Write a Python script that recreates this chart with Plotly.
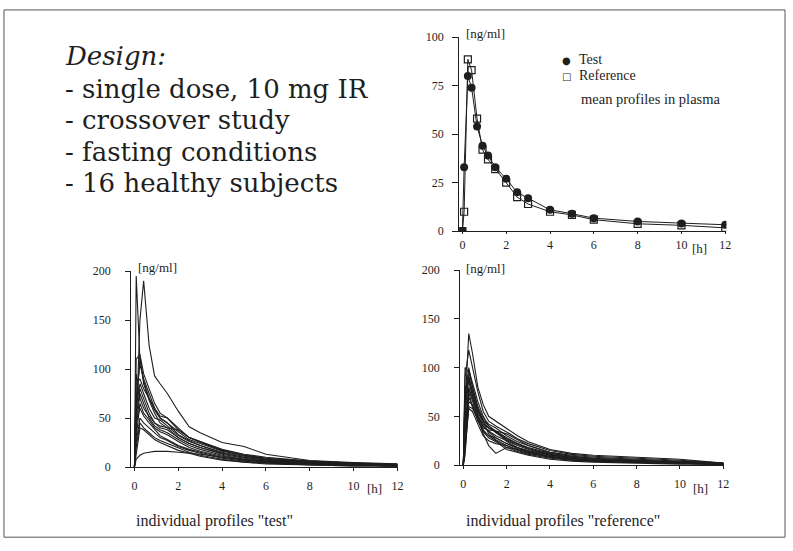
import plotly.graph_objects as go

# ---------------- data ----------------
hours = [0, 0.08, 0.25, 0.42, 0.67, 0.92, 1.17, 1.5, 2, 2.5, 3, 4, 5, 6, 8, 10, 12]

mean_test = [0, 33, 80, 74, 54, 44, 39, 33, 27, 20, 17, 11, 9, 6.7, 5, 4, 3.3]
mean_reference = [0, 10, 88.6, 83, 58, 42, 37, 32, 25, 17.5, 14, 10, 8.4, 5.9, 3.8, 3, 1.7]

test_subjects = [
    [0, 40, 150, 190, 124, 93, 85, 75, 57, 41, 35, 25, 21, 13, 6.6, 4.5, 3.3],
    [0, 195, 110, 88, 70, 58, 50, 45, 36, 28, 24, 16, 12, 9, 6, 4, 3],
    [0, 110, 115, 95, 80, 65, 55, 50, 40, 30, 26, 18, 13, 10, 6, 4, 2],
    [0, 70, 105, 90, 75, 60, 50, 45, 33, 27, 22, 15, 11, 8, 5, 3, 2],
    [0, 85, 90, 80, 70, 60, 52, 50, 38, 30, 26, 17, 12, 9, 5, 3, 2],
    [0, 60, 85, 75, 60, 50, 48, 42, 32, 26, 22, 14, 10, 7, 4, 3, 2],
    [0, 50, 80, 70, 55, 45, 40, 38, 30, 24, 20, 13, 9, 6, 4, 3, 2],
    [0, 40, 75, 65, 50, 42, 38, 35, 28, 22, 18, 12, 8, 6, 4, 2, 1],
    [0, 95, 70, 60, 52, 45, 42, 40, 38, 30, 25, 17, 12, 8, 5, 3, 2],
    [0, 30, 65, 55, 48, 40, 36, 33, 26, 20, 16, 11, 8, 5, 3, 2, 1],
    [0, 45, 60, 52, 45, 38, 32, 28, 22, 18, 15, 10, 7, 5, 3, 2, 1],
    [0, 25, 50, 45, 40, 35, 30, 27, 21, 17, 14, 9, 6, 4, 3, 2, 1],
    [0, 20, 45, 40, 35, 30, 27, 24, 19, 15, 12, 8, 5, 4, 2, 1, 1],
    [0, 12, 40, 38, 33, 28, 25, 22, 17, 14, 11, 7, 5, 3, 2, 1, 1],
    [0, 8, 12, 14, 15, 16, 16, 16, 15, 14, 13, 10, 7, 5, 3, 2, 1],
    [0, 60, 112, 85, 68, 55, 45, 40, 30, 24, 20, 14, 10, 7, 4, 3, 2],
]

reference_subjects = [
    [0, 60, 135, 115, 80, 62, 50, 45, 38, 30, 24, 16, 12, 10, 8, 6, 2],
    [0, 90, 118, 100, 75, 55, 45, 40, 34, 27, 22, 15, 11, 9, 7, 5, 2],
    [0, 100, 95, 80, 60, 48, 42, 38, 30, 24, 20, 13, 10, 8, 6, 4, 2],
    [0, 70, 98, 85, 65, 50, 40, 35, 28, 22, 18, 12, 9, 7, 5, 3, 1],
    [0, 50, 90, 75, 55, 42, 38, 34, 27, 22, 17, 11, 8, 6, 4, 3, 1],
    [0, 80, 85, 70, 50, 40, 35, 30, 25, 20, 16, 10, 8, 6, 4, 3, 1],
    [0, 40, 80, 68, 52, 38, 36, 35, 24, 18, 15, 10, 7, 5, 4, 3, 1],
    [0, 30, 75, 60, 45, 35, 30, 28, 22, 17, 14, 9, 7, 5, 3, 2, 1],
    [0, 20, 60, 58, 48, 32, 20, 12, 18, 16, 13, 8, 6, 4, 3, 2, 1],
    [0, 15, 58, 55, 42, 30, 25, 22, 20, 15, 12, 8, 5, 4, 3, 2, 1],
    [0, 75, 92, 72, 55, 45, 38, 35, 32, 26, 20, 13, 9, 7, 5, 3, 2],
    [0, 10, 65, 62, 50, 40, 34, 28, 22, 18, 14, 9, 6, 5, 3, 2, 1],
    [0, 55, 100, 80, 58, 44, 32, 26, 20, 16, 13, 8, 6, 4, 3, 2, 1],
    [0, 35, 78, 65, 48, 36, 30, 25, 18, 14, 11, 7, 5, 4, 3, 2, 1],
    [0, 25, 70, 60, 46, 34, 28, 24, 16, 13, 10, 6, 4, 3, 2, 1, 1],
    [0, 65, 88, 74, 56, 46, 40, 33, 26, 21, 17, 11, 8, 6, 4, 3, 1],
]

x_ticks = [0, 2, 4, 6, 8, 10, 12]
mean_y_ticks = [0, 25, 50, 75, 100]
indiv_y_ticks = [0, 50, 100, 150, 200]

design_lines = ["<i>Design:</i>", "- single dose, 10 mg IR", "- crossover study",
                "- fasting conditions", "- 16 healthy subjects"]

# ---------------- figure ----------------
W, H = 793, 551
INK = "#1e1e1e"
FONT = "Liberation Serif"
DESIGN_FONT = "DejaVu Serif"


def px_x(p):
    return p / W


def px_y(p):
    return 1 - p / H


fig = go.Figure()

# mean profiles (top right)
fig.add_trace(go.Scatter(x=hours, y=mean_reference, mode="lines+markers", xaxis="x", yaxis="y",
                         line=dict(color=INK, width=1),
                         marker=dict(symbol="square-open", size=7, color=INK, line=dict(width=1.2)),
                         showlegend=False))
fig.add_trace(go.Scatter(x=hours, y=mean_test, mode="lines+markers", xaxis="x", yaxis="y",
                         line=dict(color=INK, width=1),
                         marker=dict(symbol="circle", size=8, color=INK),
                         showlegend=False))

for s in test_subjects:
    fig.add_trace(go.Scatter(x=hours, y=s, mode="lines", xaxis="x2", yaxis="y2",
                             line=dict(color=INK, width=1.1), showlegend=False))
for s in reference_subjects:
    fig.add_trace(go.Scatter(x=hours, y=s, mode="lines", xaxis="x3", yaxis="y3",
                             line=dict(color=INK, width=1.1), showlegend=False))

axis_common = dict(showgrid=False, zeroline=False, showline=True, linecolor=INK, linewidth=1,
                   ticks="outside", tickcolor=INK, tickfont=dict(family=FONT, size=12, color=INK))

fig.update_layout(
    width=W, height=H, margin=dict(l=0, r=0, t=0, b=0),
    paper_bgcolor="white", plot_bgcolor="white",
    font=dict(family=FONT, color=INK), showlegend=False,
    xaxis=dict(axis_common, domain=[px_x(462), px_x(731)], range=[-0.15, 12.05],
               tickvals=x_ticks, ticklen=2, anchor="y", ticklabelstandoff=0),
    yaxis=dict(axis_common, domain=[px_y(230), px_y(31)], range=[0, 100],
               tickvals=mean_y_ticks, ticklen=6, anchor="x", ticklabelstandoff=6),
    xaxis2=dict(axis_common, domain=[px_x(132), px_x(401)], range=[-0.15, 12.05],
                tickvals=x_ticks, ticklen=3, anchor="y2", ticklabelstandoff=5),
    yaxis2=dict(axis_common, domain=[px_y(472), px_y(271)], range=[0, 200],
                tickvals=indiv_y_ticks, ticklen=5, anchor="x2", ticklabelstandoff=12),
    xaxis3=dict(axis_common, domain=[px_x(463), px_x(729)], range=[-0.15, 12.05],
                tickvals=x_ticks, ticklen=3, anchor="y3", ticklabelstandoff=5),
    yaxis3=dict(axis_common, domain=[px_y(470), px_y(270)], range=[0, 200],
                tickvals=indiv_y_ticks, ticklen=5, anchor="x3", ticklabelstandoff=12),
)

annotations = []
# design text
line_centers = [50, 84, 116, 149, 181]
for txt, yc in zip(design_lines, line_centers):
    annotations.append(dict(text=txt, x=px_x(63), y=px_y(yc), xref="paper", yref="paper",
                            xanchor="left", yanchor="middle", showarrow=False,
                            font=dict(family=DESIGN_FONT, size=26, color=INK)))

small = dict(xref="paper", yref="paper", showarrow=False, font=dict(family=FONT, size=13, color=INK))
for (xp, yp) in [(467, 27), (137, 267), (467, 268)]:
    annotations.append(dict(small, text="[ng/ml]", x=px_x(xp), y=px_y(yp), xanchor="left", yanchor="middle"))
for (xp, yp) in [(704, 248), (377, 494), (705, 494)]:
    annotations.append(dict(small, text="[h]", x=px_x(xp), y=px_y(yp), xanchor="center", yanchor="middle"))
# legend of the mean plot
annotations.append(dict(small, text="\u25CF", x=px_x(570), y=px_y(55), xanchor="center", yanchor="middle",
                        font=dict(family="DejaVu Sans", size=10, color=INK)))
annotations.append(dict(small, text="\u25A1", x=px_x(570), y=px_y(71), xanchor="center", yanchor="middle",
                        font=dict(family="DejaVu Sans", size=10, color=INK)))
annotations.append(dict(small, text="Test", x=px_x(581), y=px_y(54), xanchor="left", yanchor="middle",
                        font=dict(family=FONT, size=14, color=INK)))
annotations.append(dict(small, text="Reference", x=px_x(581), y=px_y(70), xanchor="left", yanchor="middle",
                        font=dict(family=FONT, size=14, color=INK)))
annotations.append(dict(small, text="mean profiles in plasma", x=px_x(583), y=px_y(94),
                        xanchor="left", yanchor="middle", font=dict(family=FONT, size=14.5, color=INK)))
annotations.append(dict(small, text='individual profiles "test"', x=px_x(135), y=px_y(527),
                        xanchor="left", yanchor="middle", font=dict(family=FONT, size=16, color=INK)))
annotations.append(dict(small, text='individual profiles "reference"', x=px_x(467), y=px_y(527),
                        xanchor="left", yanchor="middle", font=dict(family=FONT, size=16, color=INK)))
fig.update_layout(annotations=annotations)

fig.add_shape(type="rect", xref="paper", yref="paper", x0=px_x(4), x1=px_x(790), y0=px_y(544), y1=px_y(3),
              line=dict(color="#555", width=1))

fig.write_html("out.html")
